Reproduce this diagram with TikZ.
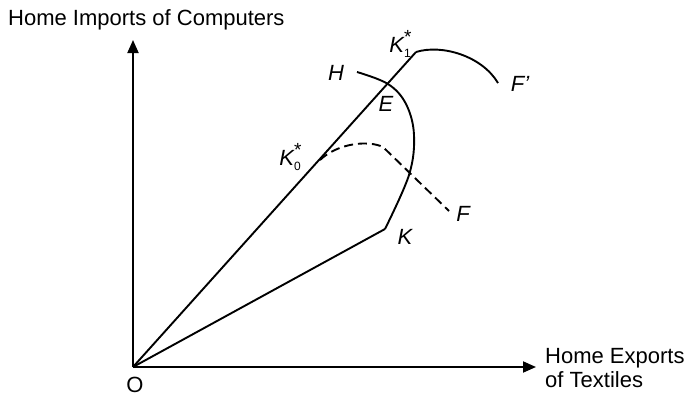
\documentclass[tikz,border=0pt]{standalone}
\usepackage{fontspec}
\setmainfont{Liberation Sans}
\usetikzlibrary{arrows.meta}
\newcommand{\kstar}[1]{K\rlap{\raisebox{0.42em}{\fontsize{19}{19}\selectfont\upshape *}}\raisebox{-0.25em}{\fontsize{12}{12}\selectfont\upshape #1}}
\begin{document}
\begin{tikzpicture}[x=1pt,y=-1pt,
  curve/.style={line width=1.9pt},
  axis/.style={line width=1.9pt,-{Triangle[length=13pt,width=11pt]}},
  lbl/.style={font=\fontsize{22}{24}\selectfont\itshape,inner sep=0pt},
  txt/.style={font=\fontsize{22}{24}\selectfont,inner sep=0pt,align=left}]
\useasboundingbox (0,0) rectangle (690,394);
\coordinate (O) at (133,367);
\coordinate (ytip) at (133,40);
\coordinate (xtip) at (536,367);
\coordinate (K1) at (416,52);
\coordinate (K0) at (320,160);
\coordinate (Kc) at (385,229);
\coordinate (Hs) at (357,72);
\coordinate (Fp) at (498,83);
\coordinate (Fd) at (449,211);
\coordinate (Fk) at (383,147);
\draw[axis] (O) -- (ytip);
\draw[axis] (O) -- (xtip);
\draw[curve] (O) -- (K1);
\draw[curve] (O) -- (Kc);
\draw[curve] (K1) .. controls (442,44) and (482,56) .. (Fp);
\draw[curve] plot[smooth,tension=0.6] coordinates {(Hs) (388,84) (406,104) (414,135) (409,175) (Kc)};
\draw[curve,dash pattern=on 9pt off 5pt] (K0) .. controls (338,143) and (368,140) .. (Fk) -- (Fd);
\node[txt,anchor=west] (ylab) at (8,20) {Home Imports of Computers};
\node[txt,anchor=west] (xlab) at (545,368) {Home Exports\\of Textiles};
\node[txt] (olab) at (135,385) {O};
\node[lbl] (k1lab) at (400,44) {\kstar{1}};
\node[lbl] (hlab) at (336,73) {H};
\node[lbl] (elab) at (386,104) {E};
\node[lbl] (fplab) at (520,84) {F’};
\node[lbl] (k0lab) at (290,157) {\kstar{0}};
\node[lbl] (flab) at (463,214) {F};
\node[lbl] (klab) at (405,237) {K};
\end{tikzpicture}
\end{document}
